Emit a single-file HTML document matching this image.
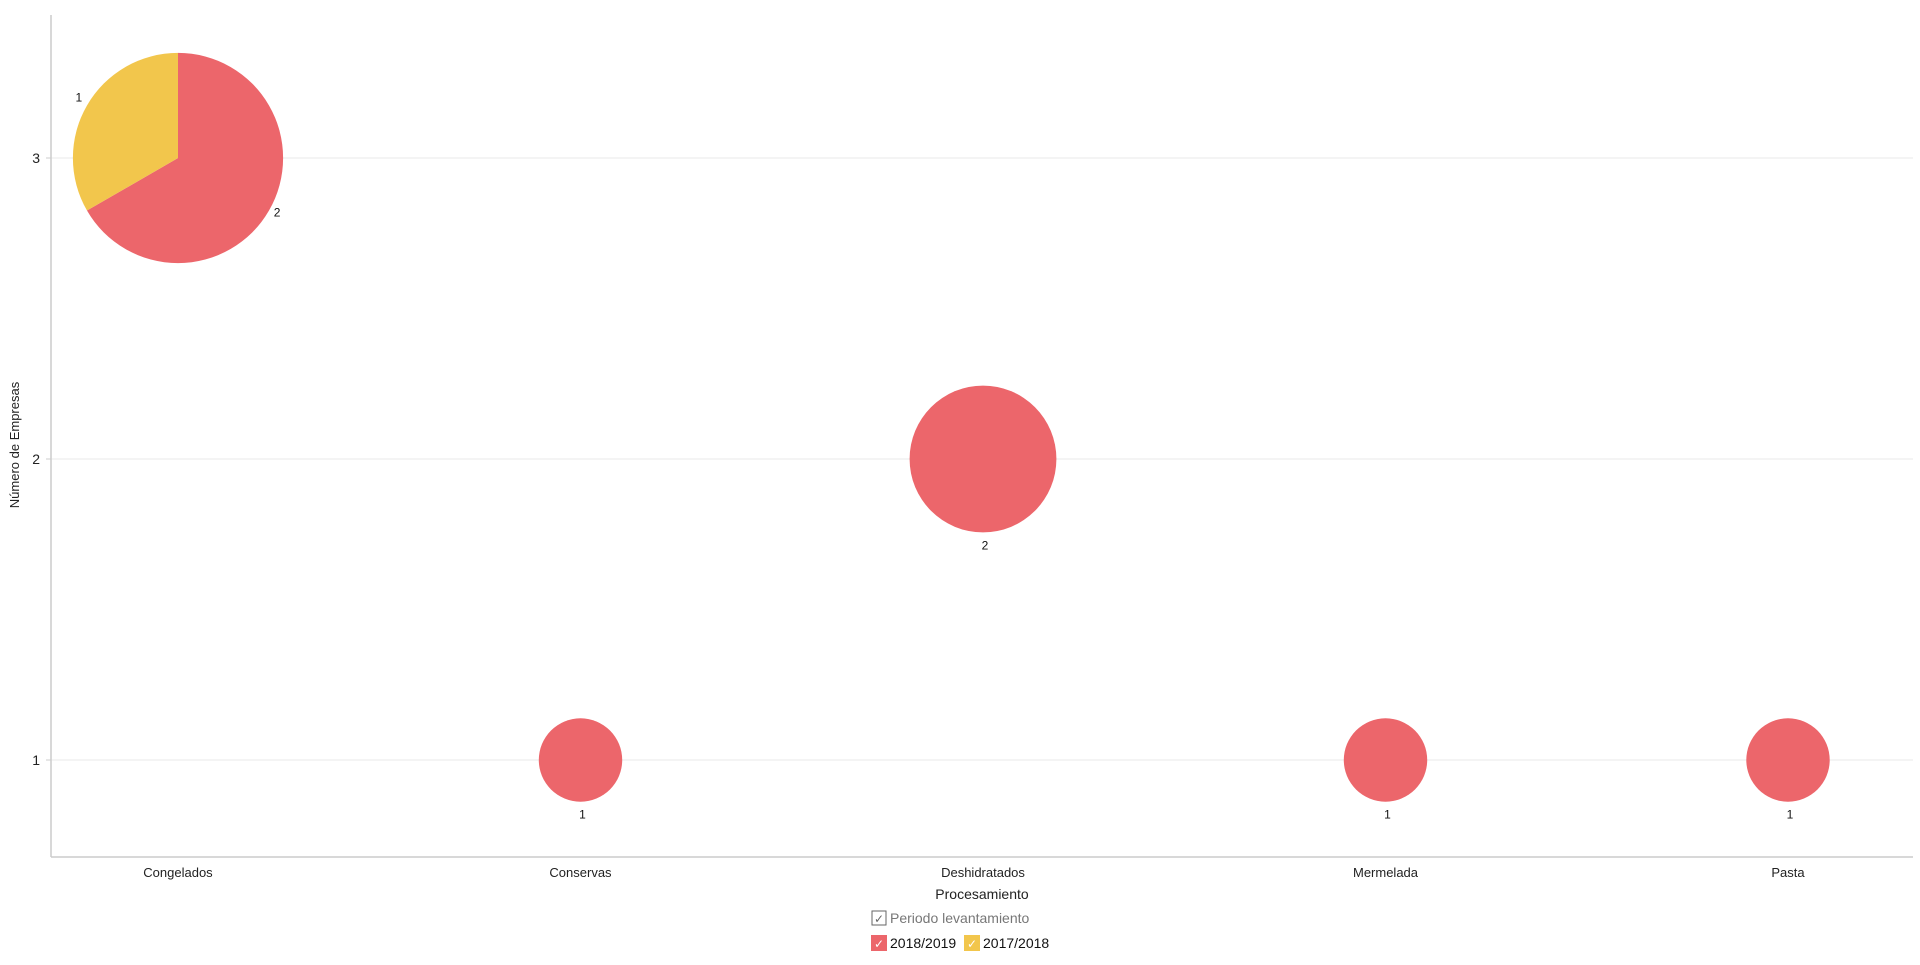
<!DOCTYPE html>
<html><head><meta charset="utf-8"><style>
html,body{margin:0;padding:0;background:#fff;width:1920px;height:965px;overflow:hidden;font-family:"Liberation Sans",sans-serif}
</style></head><body>
<svg id="chart" width="1920" height="965" xmlns="http://www.w3.org/2000/svg" font-family="Liberation Sans, sans-serif"></svg>
<script>
const categories = ["Congelados","Conservas","Deshidratados","Mermelada","Pasta"];
const series2019 = [2,1,2,1,1];
const series2018 = [1,0,0,0,0];
const yTicks = [1,2,3];
const seriesNames = ["2018/2019","2017/2018"];
const colors = ["#EC666B","#F2C64C"];

const svg = document.getElementById('chart');
const NS = 'http://www.w3.org/2000/svg';
function mk(tag, attrs, parent){const e=document.createElementNS(NS,tag);for(const k in attrs)e.setAttribute(k,attrs[k]);(parent||svg).appendChild(e);return e;}
const xScale = i => 178 + i*402.5;
const yScale = v => 1061 - 301*v;
const rScale = v => 10 + 31.7*v;

yTicks.forEach(t=>{
  const g = mk('line',{x1:51,x2:1913,y1:yScale(t),y2:yScale(t),stroke:'#e8e8e8','stroke-width':1});
  
  
  const tk = mk('line',{x1:46,x2:51,y1:yScale(t),y2:yScale(t),stroke:'#ccc'});
  
  
  const tx = mk('text',{x:40,y:yScale(t)+5,'text-anchor':'end','font-size':14,fill:'#222'});
  tx.textContent=t;
  
  
});
const ya = mk('line',{x1:51,x2:51,y1:15,y2:857,stroke:'#ccc','stroke-width':1.5});


const xa = mk('line',{x1:51,x2:1913,y1:857,y2:857,stroke:'#ccc','stroke-width':1.5});



categories.forEach((c,i)=>{
  const t = mk('text',{x:xScale(i),y:877,'text-anchor':'middle','font-size':13,fill:'#222'});
  t.textContent=c;
  
  
  const a = series2019[i], b = series2018[i], tot=a+b;
  const cx=xScale(i), cy=yScale(tot), r=rScale(tot);
  if(b===0){
    const ci = mk('circle',{cx:cx,cy:cy,r:r,fill:colors[0]});
    
    
    const l = mk('text',{x:cx+2,y:cy+r+17,'text-anchor':'middle','font-size':12,fill:'#111'});
    l.textContent=a;
    
    
  } else {
    const vals=[a,b]; let ang=0;
    vals.forEach((v,k)=>{
      const sweep = v/tot*2*Math.PI;
      const a0 = k===0?ang:-(sweep); const a1 = k===0?sweep:0;
      const p0=[cx+r*Math.sin(a0),cy-r*Math.cos(a0)], p1=[cx+r*Math.sin(a1),cy-r*Math.cos(a1)];
      const large = sweep>Math.PI?1:0;
      const p = mk('path',{d:`M${cx},${cy} L${p0[0]},${p0[1]} A${r},${r} 0 ${large} 1 ${p1[0]},${p1[1]} Z`,fill:colors[k]});
      
      
      const mid=(a0+a1)/2, lr=r+14;
      const l = mk('text',{x:cx+lr*Math.sin(mid)+(k===0?-4:4),y:cy-lr*Math.cos(mid)+(k===0?-1:3),'text-anchor':'middle','font-size':12,fill:'#111'});
      l.textContent=v;
      
      
    });
  }
});

const yt = mk('text',{x:0,y:0,'text-anchor':'middle','font-size':13,fill:'#222',transform:'translate(19,445) rotate(-90)'});
yt.textContent='Número de Empresas';


const xt = mk('text',{x:982,y:899,'text-anchor':'middle','font-size':14,fill:'#222'});
xt.textContent='Procesamiento';



const lg = mk('g',{});


const lb = mk('rect',{x:872,y:911,width:14,height:14,fill:'#fff',stroke:'#666'},lg);


const lck = mk('text',{x:879,y:923,'text-anchor':'middle','font-size':12,fill:'#666'},lg); lck.textContent='✓';


const ltt = mk('text',{x:890,y:923,'font-size':14,fill:'#777'},lg); ltt.textContent='Periodo levantamiento';


const lx=[871,964];
seriesNames.forEach((s,k)=>{
  const r = mk('rect',{x:lx[k],y:935,width:16,height:16,fill:colors[k]},lg);
  
  
  const c = mk('text',{x:lx[k]+8,y:948,'text-anchor':'middle','font-size':12,fill:'#fff'},lg); c.textContent='✓';
  
  
  const t = mk('text',{x:lx[k]+19,y:948,'font-size':14,fill:'#111'},lg); t.textContent=s;
  
  
});
</script>
</body></html>
